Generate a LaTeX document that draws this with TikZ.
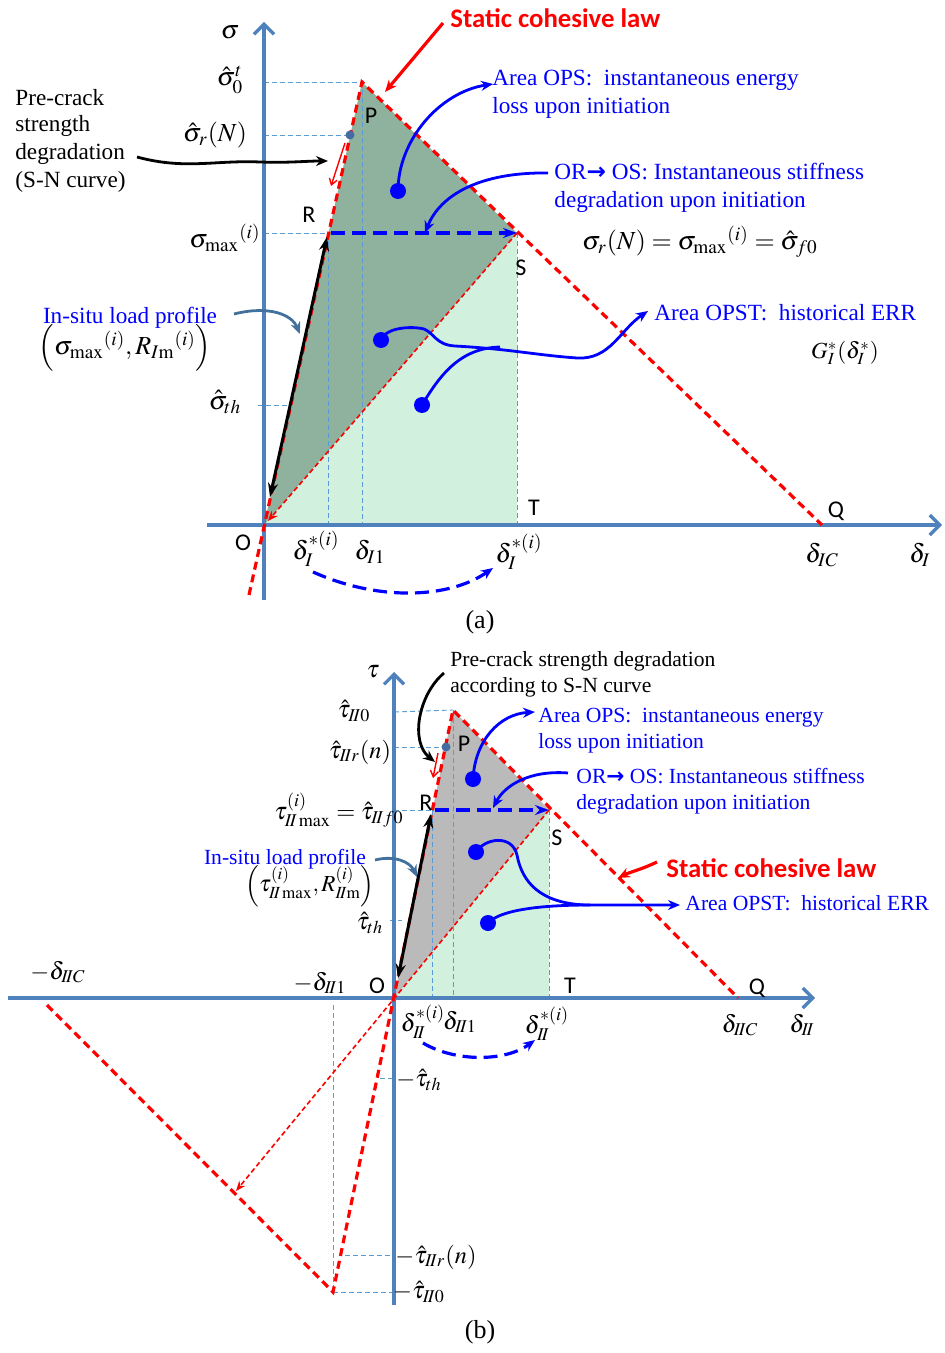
\documentclass[tikz,border=0pt]{standalone}
\usepackage{mathptmx}
\usepackage{fontspec}
\setmainfont{Liberation Serif}
\newfontfamily\calib{Carlito}
\newfontfamily\djv{DejaVu Sans}
\usetikzlibrary{arrows.meta}
\definecolor{axisblue}{RGB}{79,129,189}
\definecolor{guideblue}{RGB}{91,155,213}
\definecolor{darkfill}{RGB}{143,178,158}
\definecolor{lightfill}{RGB}{210,240,222}
\definecolor{grayfill}{RGB}{186,186,186}
\definecolor{insitu}{RGB}{65,113,156}
\definecolor{ptblue}{RGB}{68,108,160}
\newcommand{\II}{I\!I}
\newcommand{\rarr}{{\djv\bfseries →}}
\begin{document}
\begin{tikzpicture}[x=0.5pt,y=-0.5pt,
  axis/.style={axisblue,line width=1.6pt,-{Straight Barb[length=5pt,width=10pt,line width=1.6pt]}},
  reddash/.style={red,line width=1.6pt,dash pattern=on 4pt off 2.5pt},
  thinred/.style={red,line width=0.8pt,dash pattern=on 2.5pt off 1.5pt},
  guide/.style={guideblue,line width=0.45pt,dash pattern=on 2.5pt off 1.5pt},
  bcurve/.style={blue,line width=1.4pt},
  bdot/.style={circle,fill=blue,inner sep=0pt,minimum size=8pt},
  sdot/.style={circle,fill=ptblue,inner sep=0pt,minimum size=4.5pt},
  txt/.style={inner sep=0pt,font=\fontsize{11.6}{14}\selectfont,align=left},
  txtb/.style={inner sep=0pt,font=\fontsize{10.8}{13}\selectfont,align=left},
  lbl/.style={inner sep=0pt,font=\calib\fontsize{12}{14}\selectfont},
  mth/.style={inner sep=0pt,font=\fontsize{13}{15}\selectfont},
  mthb/.style={inner sep=0pt,font=\fontsize{12.2}{14}\selectfont},
  tip/.style={-{Stealth[length=6pt,width=5pt]}},
  twotip/.style={{Stealth[length=7pt,width=5pt]}-{Stealth[length=7pt,width=5pt]}},
  static/.style={inner sep=0pt,text=red,font=\calib\bfseries\fontsize{13.4}{15}\selectfont},
]
\useasboundingbox (0,0) rectangle (944,1353);

%================ (a) ================
\coordinate (O) at (264,525);
\coordinate (P) at (362,82);
\coordinate (R) at (328,233);
\coordinate (S) at (517,233);
\coordinate (T) at (517,525);
\coordinate (Q) at (822,525);
\coordinate (Ob) at (249,595);
\coordinate (Pf) at (362,525);
\coordinate (Rf) at (328,525);

\fill[lightfill] (O)--(S)--(T)--cycle;
\fill[darkfill] (O)--(P)--(S)--cycle;

\draw[guide] (264,82)--(P);
\draw[guide] (264,135)--(350,135);
\draw[guide] (264,233)--(R);
\draw[guide] (258,405)--(288,405);
\draw[guide] (R)--(Rf);
\draw[guide] (P)--(Pf);
\draw[guide] (S)--(T);

\draw[axis] (264,600) -- (264,22);
\draw[axis] (207,525) -- (942,525);

\draw[reddash] (Ob) -- (P) -- (Q);
\draw[thinred,-{Stealth[length=5pt,width=4pt]}] (S) -- (268,521);
\draw[red,line width=0.7pt,-{Straight Barb[length=3pt,width=4pt]}] (345,143) -- (331,186);

\coordinate (La) at (270,497);
\coordinate (Lb) at (327,237);
\draw[black,line width=1.5pt,twotip] (La) -- (Lb);
\draw[blue,line width=1.6pt,dash pattern=on 7pt off 3.5pt,-{Stealth[length=7pt,width=5pt]}] (331,233) -- (S);

\node[sdot] (rdot) at (350,135) {};

% blue dots and curves
\node[bdot] (d1) at (398,191) {};
\node[bdot] (d2) at (381,340) {};
\node[bdot] (d3) at (422,405) {};

\node[txt,text=blue,anchor=west] (ops) at (492,94) {Area OPS:\ \ instantaneous energy\\loss upon initiation};
\node[txt,text=blue,anchor=west] (oros) at (554,188) {OR\rarr\ OS: Instantaneous stiffness\\degradation upon initiation};
\node[txt,text=blue,anchor=west] (opst) at (654,313) {Area OPST:\ \ historical ERR};

\draw[bcurve,tip] (d1.center) .. controls (398,140) and (440,92) .. (493,84);
\draw[bcurve,tip] (548,173) .. controls (480,172) and (440,195) .. (425,233);
\draw[bcurve,tip] (d2.center) .. controls (386,327) and (412,326) .. (424,329)
   .. controls (434,333) and (436,345) .. (455,346)
   .. controls (510,349) and (535,355) .. (577,358)
   .. controls (610,360) and (620,330) .. (648,311);
\draw[bcurve] (d3.center) .. controls (440,375) and (460,348) .. (500,347);

% black pre-crack arrow
\node[txt,anchor=west] (pre1) at (15,98) {Pre-crack};
\node[txt,anchor=west] (pre2) at (15,126) {strength};
\node[txt,anchor=west] (pre3) at (15,154) {degradation};
\node[txt,anchor=west] (pre4) at (15,182) {(S-N curve)};
\draw[black,line width=1.4pt,tip] (137,157) .. controls (185,170) and (215,160) .. (260,162) .. controls (290,163) and (305,161) .. (328,161);

% in-situ
\node[txt,text=blue] (ins) at (130,318) {In-situ load profile};
\node[mth] (insm) at (125,348) {$\left(\sigma_{\max}{}^{(i)},R_{I\mathrm{m}}{}^{(i)}\right)$};
\draw[insitu,line width=1.4pt,tip] (234,314) .. controls (270,305) and (292,315) .. (300,334);

% static
\node[static,anchor=west] (stat) at (450,18) {Static cohesive law};
\draw[red,line width=1.6pt,tip] (443,23) -- (385,92);

% dashed arc
\draw[blue,line width=1.6pt,dash pattern=on 7pt off 3.5pt,tip] (313,572) .. controls (380,602) and (450,598) .. (493,568);

% labels
\node[mth] at (230,32) {$\sigma$};
\node[mth] at (230,80) {$\hat{\sigma}_0^t$};
\node[mth] at (215,135) {$\hat{\sigma}_r(N)$};
\node[mth] at (225,238) {$\sigma_{\max}{}^{(i)}$};
\node[mth] at (225,402) {$\hat{\sigma}_{th}$};
\node[lbl] at (243,543) {O};
\node[lbl] at (371,116) {P};
\node[lbl] at (309,215) {R};
\node[lbl] at (521,268) {S};
\node[lbl] at (534,508) {T};
\node[lbl] at (836,511) {Q};
\node[mth] at (316,549) {$\delta_I^{*(i)}$};
\node[mth] at (370,552) {$\delta_{I1}$};
\node[mth] at (519,552) {$\delta_I^{*(i)}$};
\node[mth] at (822,555) {$\delta_{IC}$};
\node[mth] at (920,555) {$\delta_I$};
\node[mth] at (700,242) {$\sigma_r(N)=\sigma_{\max}{}^{(i)}=\hat{\sigma}_{f0}$};
\node[mth,font=\fontsize{11.5}{13}\selectfont] at (845,353) {$G_I^*(\delta_I^*)$};
\node[txt,font=\fontsize{13}{15}\selectfont] at (480,622) {(a)};

%================ (b) ================
\coordinate (O2) at (394,998);
\coordinate (P2) at (453,710);
\coordinate (R2) at (432,810);
\coordinate (S2) at (549,810);
\coordinate (T2) at (549,998);
\coordinate (Q2) at (738,998);
\coordinate (N2) at (333,1292);
\coordinate (C2) at (47,1005);
\coordinate (A2) at (236,1191);

\fill[lightfill] (O2)--(S2)--(T2)--cycle;
\fill[grayfill] (O2)--(P2)--(S2)--cycle;

\draw[guide] (394,712)--(P2);
\draw[guide] (394,747)--(446,747);
\draw[guide] (394,810)--(R2);
\draw[guide] (390,920)--(402,920);
\draw[guide] (R2)--(432,998);
\draw[guide] (P2)--(453,998);
\draw[guide] (S2)--(T2);
\draw[guide] (333,1005)--(N2);
\draw[guide] (380,1078)--(394,1078);
\draw[guide] (345,1255)--(394,1255);
\draw[guide] (N2)--(394,1292);

\draw[axis] (394,1305) -- (394,672);
\draw[axis] (8,998) -- (815,998);

\draw[reddash] (C2) -- (N2) -- (P2) -- (Q2);
\draw[thinred,-{Stealth[length=5pt,width=4pt]}] (S2) -- (A2);
\draw[red,line width=0.7pt,-{Straight Barb[length=3pt,width=4pt]}] (438,753) -- (433,778);

\coordinate (Lc) at (398,978);
\coordinate (Ld) at (431,814);
\draw[black,line width=1.5pt,twotip] (Lc) -- (Ld);
\draw[blue,line width=1.6pt,dash pattern=on 7pt off 3.5pt,-{Stealth[length=7pt,width=5pt]}] (435,810) -- (S2);

\node[sdot] (rdot2) at (446,747) {};

\node[bdot] (e1) at (473,779) {};
\node[bdot] (e2) at (476,852) {};
\node[bdot] (e3) at (488,923) {};

\node[txtb,text=blue,anchor=west] (ops2) at (538,731) {Area OPS:\ \ instantaneous energy\\loss upon initiation};
\node[txtb,text=blue,anchor=west] (oros2) at (576,791) {OR\rarr\ OS: Instantaneous stiffness\\degradation upon initiation};
\node[txtb,text=blue,anchor=west] (opst2) at (685,903) {Area OPST:\ \ historical ERR};

\draw[bcurve,tip] (e1.center) .. controls (475,740) and (500,714) .. (535,712);
\draw[bcurve,tip] (568,773) .. controls (530,770) and (505,785) .. (493,808);
\draw[bcurve,tip] (e2.center) .. controls (485,838) and (512,834) .. (517,855)
   .. controls (522,882) and (540,903) .. (585,905) -- (680,905);
\draw[bcurve] (e3.center) .. controls (500,910) and (540,905) .. (590,905);

\node[txtb,anchor=west] (preb) at (450,674) {Pre-crack strength degradation\\according to S-N curve};
\draw[black,line width=1.4pt,tip] (444,673) .. controls (418,695) and (410,742) .. (435,762);

\node[txtb,text=blue] (ins2) at (285,859) {In-situ load profile};
\node[mthb,font=\fontsize{11.5}{13}\selectfont] (ins2m) at (310,886) {$\left(\tau^{(i)}_{\II\max},R^{(i)}_{\II\mathrm{m}}\right)$};
\draw[insitu,line width=1.4pt,tip] (375,860) .. controls (395,855) and (410,862) .. (417,877);

\node[static,anchor=west] (stat2) at (666,868) {Static cohesive law};
\draw[red,line width=1.6pt,tip] (657,862) .. controls (640,870) and (630,872) .. (618,878);

\draw[blue,line width=1.6pt,dash pattern=on 7pt off 3.5pt,tip] (423,1043) .. controls (455,1062) and (505,1062) .. (535,1040);

\node[mthb] at (373,672) {$\tau$};
\node[mthb] at (354,711) {$\hat{\tau}_{\II0}$};
\node[mthb] at (360,752) {$\hat{\tau}_{\II r}(n)$};
\node[mthb] at (339,810) {$\tau^{(i)}_{\II\max}=\hat{\tau}_{\II f0}$};
\node[mthb] at (370,923) {$\hat{\tau}_{th}$};
\node[mthb] at (58,972) {$-\delta_{\II C}$};
\node[mthb] at (320,983) {$-\delta_{\II1}$};
\node[lbl] at (377,986) {O};
\node[lbl] at (464,744) {P};
\node[lbl] at (426,803) {R};
\node[lbl] at (557,838) {S};
\node[lbl] at (570,986) {T};
\node[lbl] at (757,988) {Q};
\node[mthb] at (423,1022) {$\delta_{\II}^{*(i)}$};
\node[mthb] at (460,1022) {$\delta_{\II1}$};
\node[mthb] at (547,1024) {$\delta_{\II}^{*(i)}$};
\node[mthb] at (740,1025) {$\delta_{\II C}$};
\node[mthb] at (802,1025) {$\delta_{\II}$};
\node[mthb] at (419,1080) {$-\hat{\tau}_{th}$};
\node[mthb] at (436,1257) {$-\hat{\tau}_{\II r}(n)$};
\node[mthb] at (419,1292) {$-\hat{\tau}_{\II0}$};
\node[txt,font=\fontsize{13}{15}\selectfont] at (480,1332) {(b)};
\end{tikzpicture}
\end{document}
